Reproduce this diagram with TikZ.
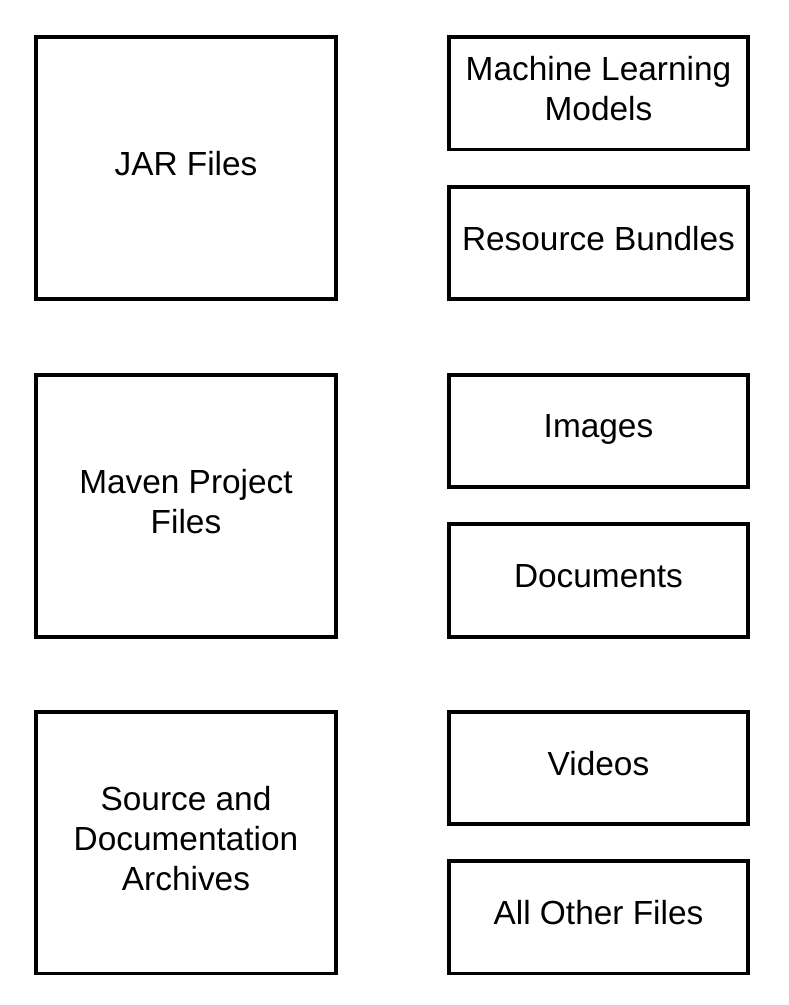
\documentclass[tikz,border=0pt]{standalone}
\usepackage{fontspec}
\setmainfont{Liberation Sans}
\begin{document}
\begin{tikzpicture}[x=1pt,y=-1pt,
  box/.style={draw=black,line width=3.5pt,fill=white,inner sep=0pt},
  lbl/.style={align=center,font=\fontsize{33.4}{40}\selectfont,inner sep=0pt}]
\useasboundingbox (0,0) rectangle (788,1005);
% left column
\node[box,minimum width=300pt,minimum height=262pt] (jar) at (186,168) {};
\node[box,minimum width=300pt,minimum height=262pt] (maven) at (186,506) {};
\node[box,minimum width=300pt,minimum height=261.5pt] (src) at (186,842.75) {};
% right column
\node[box,minimum width=299pt,minimum height=112.5pt] (ml) at (598.5,93.25) {};
\node[box,minimum width=299pt,minimum height=112pt] (res) at (598.5,243) {};
\node[box,minimum width=299pt,minimum height=112pt] (img) at (598.5,431) {};
\node[box,minimum width=299pt,minimum height=113pt] (doc) at (598.5,580.5) {};
\node[box,minimum width=299pt,minimum height=112pt] (vid) at (598.5,768) {};
\node[box,minimum width=299pt,minimum height=112.5pt] (oth) at (598.5,917.25) {};
% labels
\node[lbl] (tjar) at ([yshift=4.5pt]jar.center) {JAR Files};
\node[lbl] (tmaven) at ([yshift=4.5pt]maven.center) {Maven Project\\Files};
\node[lbl] (tsrc) at ([yshift=4.5pt]src.center) {Source and\\Documentation\\Archives};
\node[lbl] (tml) at ([yshift=4.5pt]ml.center) {Machine Learning\\Models};
\node[lbl] (tres) at ([yshift=4.5pt]res.center) {Resource Bundles};
\node[lbl,text depth=0pt] (timg) at ([yshift=4.5pt]img.center) {Images};
\node[lbl] (tdoc) at ([yshift=4.5pt]doc.center) {Documents};
\node[lbl] (tvid) at ([yshift=4.5pt]vid.center) {Videos};
\node[lbl] (toth) at ([yshift=4.5pt]oth.center) {All Other Files};
\end{tikzpicture}
\end{document}
